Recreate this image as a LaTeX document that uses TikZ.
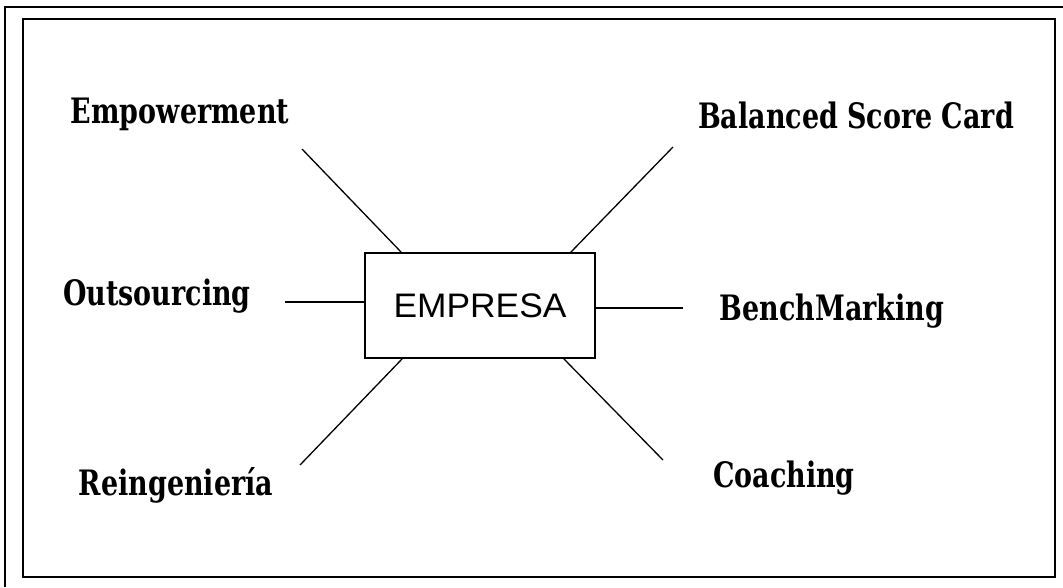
\documentclass[tikz,border=0pt]{standalone}
\usepackage{fontspec}
\newfontfamily\labelfont[FakeStretch=0.77]{DejaVu Serif}
\newfontfamily\boxfont[FakeStretch=1.04]{Liberation Sans}
\begin{document}
\begin{tikzpicture}[x=1pt,y=-1pt,
  concept/.style={font=\labelfont\bfseries\fontsize{35}{40}\selectfont, inner sep=0pt, anchor=base},
  hub/.style={draw, line width=1.6pt, minimum width=230pt, minimum height=105pt,
              inner sep=0pt, font=\boxfont\fontsize{34}{38}\selectfont},
  spoke/.style={line width=1.3pt}]
  \useasboundingbox (0,0) rectangle (1063,587);

  % double frame
  \draw[line width=1.2pt] (5,587) -- (5,7) -- (1063,7);
  \draw[line width=2.8pt] (23,19) rectangle (1055,577);

  % centre box
  \node[hub] (box) at (480,305.5) {EMPRESA};

  % surrounding concepts
  \node[concept] (emp)   at (180,123) {Empowerment};
  \node[concept] (bsc)   at (856,128) {Balanced Score Card};
  \node[concept] (out)   at (157,305) {Outsourcing};
  \node[concept] (bench) at (832,320) {BenchMarking};
  \node[concept] (reing) at (176,495) {Reingeniería};
  \node[concept] (coach) at (784,487) {Coaching};

  % free ends of the spokes
  \coordinate (e1) at (302,149);
  \coordinate (e2) at (673,147);
  \coordinate (e3) at (285,302);
  \coordinate (e4) at (683,308);
  \coordinate (e5) at (300,465);
  \coordinate (e6) at (663,460);

  \draw[spoke] (e1) -- ([xshift=37pt]box.north west);
  \draw[spoke] (e2) -- ([xshift=-25pt]box.north east);
  \draw[spoke] (e3) -- (e3 -| box.west);
  \draw[spoke] (e4) -- (e4 -| box.east);
  \draw[spoke] (e5) -- ([xshift=38pt]box.south west);
  \draw[spoke] (e6) -- ([xshift=-32pt]box.south east);
\end{tikzpicture}
\end{document}
